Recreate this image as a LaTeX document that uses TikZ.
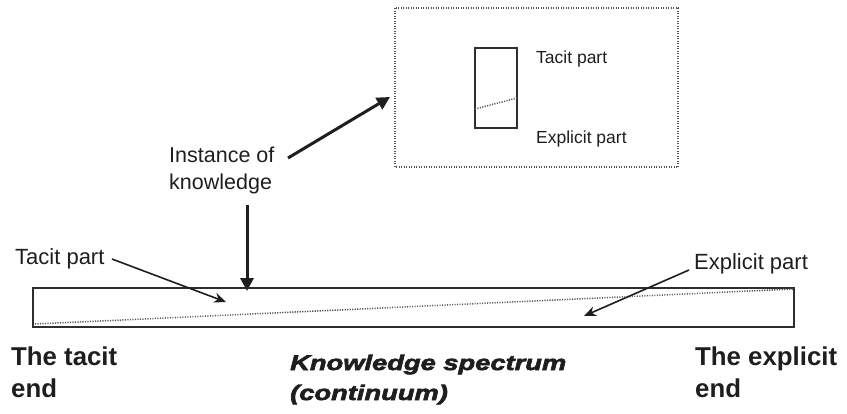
\documentclass[tikz,border=0pt]{standalone}
\usepackage{fontspec}
\setmainfont{Liberation Sans}
\newfontfamily\heavyfont[FakeStretch=1.3,FakeBold=3]{Liberation Sans}
\usetikzlibrary{arrows.meta}
\definecolor{ink}{HTML}{1E1E1E}
\definecolor{frame}{HTML}{2E2E2E}
\definecolor{dotc}{HTML}{555555}
\tikzset{
  lbl/.style={inner sep=0pt, anchor=base west, text=ink, align=left},
  boxframe/.style={draw=frame, line width=1.8pt},
  dotline/.style={draw=dotc, line width=1.5pt, dash pattern=on 1.1pt off 1.4pt},
  thickarrow/.style={draw=ink, line width=3pt, -{Triangle[length=13pt,width=13pt]}},
  thinarrow/.style={draw=ink, line width=1.6pt, -{Stealth[length=12pt,width=10pt]}},
}
\begin{document}
\begin{tikzpicture}[x=1pt,y=-1pt]
\useasboundingbox (0,0) rectangle (847,413);
% inset dotted box
\draw[draw=dotc, line width=1.6pt, dash pattern=on 1pt off 1.5pt] (395,8) rectangle (678,167);
\draw[boxframe, line width=1.6pt] (475,48) rectangle (517,128);
\draw[dotline] (475,109) -- (517,98);
\node[lbl, font=\fontsize{17.5}{20}\selectfont] (tacitS) at (536,63) {Tacit part};
\node[lbl, font=\fontsize{17.5}{20}\selectfont] (explicitS) at (536,143) {Explicit part};
% instance of knowledge (base anchor = last line)
\node[lbl, font=\fontsize{21.5}{27}\selectfont] (inst) at (169,189) {Instance of\\knowledge};
\coordinate (boxtip) at (390,97);
\coordinate (iofend) at (288,158);
\coordinate (vstart) at (247,205);
\coordinate (vtip) at (247,291);
\draw[thickarrow] (iofend) -- (boxtip);
\draw[thickarrow] (vstart) -- (vtip);
% spectrum bar
\draw[boxframe] (33,288) rectangle (794,327);
\draw[dotline] (35,324) -- (793,289);
% tacit part label
\node[lbl, font=\fontsize{22}{24}\selectfont] (tacitL) at (15,264) {Tacit part};
\coordinate (tstart) at (112,259);
\coordinate (ttip) at (226,302);
\draw[thinarrow] (tstart) -- (ttip);
% explicit part label
\node[lbl, font=\fontsize{22}{24}\selectfont] (explL) at (694,269) {Explicit part};
\coordinate (estart) at (689,270);
\coordinate (etip) at (584,316);
\draw[thinarrow] (estart) -- (etip);
% bottom labels (base anchor = last line)
\node[lbl, font=\fontsize{25.8}{32}\selectfont\bfseries] (tacitend) at (11,397) {The tacit\\end};
\node[lbl, font=\fontsize{25.8}{32}\selectfont\bfseries] (explend) at (695,397) {The explicit\\end};
\node[lbl, font=\fontsize{21}{30}\selectfont\heavyfont\bfseries\itshape] (spec) at (290,400) {Knowledge spectrum\\(continuum)};
\end{tikzpicture}
\end{document}
